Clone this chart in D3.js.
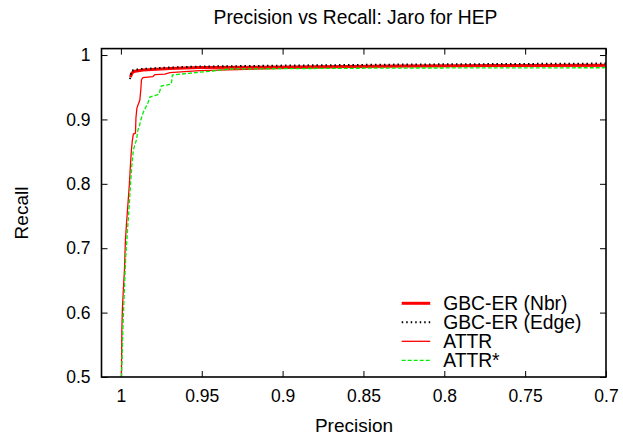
<!DOCTYPE html>
<html>
<head>
<meta charset="utf-8">
<title>Precision vs Recall: Jaro for HEP</title>
<script src="https://cdn.jsdelivr.net/npm/d3@7"></script>
<style>
  body { margin: 0; background: #fff; }
  text { font-family: "Liberation Sans", Arial, sans-serif; fill: #000; }
  .tick text { font-size: 17.5px; }
  .domain { display: none; }
</style>
</head>
<body>
<svg width="623" height="438"></svg>
<script>
// ---- data (precision, recall) ----
var nbrPrecision  = [0.9941, 0.9932, 0.9920, 0.9864, 0.9698, 0.9512, 0.8957, 0.8278, 0.7660, 0.7000];
var nbrRecall     = [0.9658, 0.9720, 0.9744, 0.9767, 0.9790, 0.9806, 0.9814, 0.9829, 0.9837, 0.9842];

var edgePrecision = [0.9944, 0.9938, 0.9932, 0.9883, 0.9698, 0.9512, 0.8957, 0.8278, 0.7660, 0.7000];
var edgeRecall    = [0.9627, 0.9705, 0.9759, 0.9783, 0.9806, 0.9821, 0.9837, 0.9852, 0.9860, 0.9868];

var attrPrecision = [0.9997, 0.9994, 0.9991, 0.9985, 0.9978, 0.9972, 0.9966, 0.9957, 0.9948, 0.9941,
                     0.9935, 0.9929, 0.9923, 0.9910, 0.9907, 0.9901, 0.9883, 0.9877, 0.9873, 0.9864,
                     0.9802, 0.9790, 0.9728, 0.9698, 0.9512, 0.8895, 0.8278, 0.7000];
var attrRecall    = [0.5000, 0.5730, 0.6040, 0.6351, 0.6661, 0.7127, 0.7360, 0.7671, 0.7981, 0.8292,
                     0.8525, 0.8680, 0.8773, 0.8789, 0.9022, 0.9177, 0.9301, 0.9457, 0.9612, 0.9651,
                     0.9666, 0.9697, 0.9705, 0.9728, 0.9759, 0.9798, 0.9821, 0.9832];

var attrsPrecision = [0.9996, 0.9988, 0.9981, 0.9975, 0.9969, 0.9963, 0.9957, 0.9948, 0.9941, 0.9932,
                      0.9923, 0.9914, 0.9904, 0.9895, 0.9886, 0.9877, 0.9861, 0.9852, 0.9833, 0.9821,
                      0.9781, 0.9765, 0.9750, 0.9688, 0.9682, 0.9596, 0.9432, 0.9327, 0.8895, 0.8278, 0.7000];
var attrsRecall    = [0.5000, 0.5730, 0.6196, 0.6584, 0.6925, 0.7127, 0.7360, 0.7671, 0.7981, 0.8292,
                      0.8525, 0.8602, 0.8680, 0.8835, 0.8898, 0.8991, 0.9115, 0.9161, 0.9255, 0.9348,
                      0.9379, 0.9394, 0.9519, 0.9550, 0.9689, 0.9713, 0.9752, 0.9783, 0.9790, 0.9798, 0.9803];

var xTicks = [1, 0.95, 0.9, 0.85, 0.8, 0.75, 0.7];
var yTicks = [1, 0.9, 0.8, 0.7, 0.6, 0.5];

var seriesNames = ["GBC-ER (Nbr)", "GBC-ER (Edge)", "ATTR", "ATTR*"];

// ---- layout ----
var svg = d3.select("svg"),
    margin = {top: 48.6, right: 17, bottom: 61, left: 101.5},
    width = 623 - margin.left - margin.right,
    height = 438 - margin.top - margin.bottom;

var x = d3.scaleLinear().domain([1.012, 0.7]).range([0, width]);
var y = d3.scaleLinear().domain([0.5, 1.01]).range([height, 0]);

var g = svg.append("g").attr("transform", "translate(" + margin.left + "," + margin.top + ")");

g.append("clipPath").attr("id", "clip")
  .append("rect").attr("width", width).attr("height", height);

// axes with inward ticks, mirrored on top/right like gnuplot
var fmt = function(d) { return d3.format("")(d); };
g.append("g").attr("transform", "translate(0," + height + ")")
  .call(d3.axisBottom(x).tickValues(xTicks).tickFormat(fmt).tickSizeInner(-6).tickPadding(13))
  .call(function(a) { a.selectAll("text").attr("dy", "0.71em"); });
g.append("g")
  .call(d3.axisTop(x).tickValues(xTicks).tickFormat("").tickSizeInner(-6));
g.append("g")
  .call(d3.axisLeft(y).tickValues(yTicks).tickFormat(fmt).tickSizeInner(-6).tickPadding(11));
g.append("g").attr("transform", "translate(" + width + ",0)")
  .call(d3.axisRight(y).tickValues(yTicks).tickFormat("").tickSizeInner(-6));

g.selectAll(".tick line").attr("stroke", "#000").attr("stroke-width", 1);

// ---- series ----
var series = [
  {name: seriesNames[0], p: nbrPrecision,  r: nbrRecall,  color: "#ff0000", w: 3,   dash: null},
  {name: seriesNames[1], p: edgePrecision, r: edgeRecall, color: "#000000", w: 2,   dash: "1.5,3"},
  {name: seriesNames[2], p: attrPrecision, r: attrRecall, color: "#ff0000", w: 1.3, dash: null},
  {name: seriesNames[3], p: attrsPrecision, r: attrsRecall, color: "#00ee00", w: 1.3, dash: "4,2"}
];

var line = d3.line()
  .x(function(d) { return x(d[0]); })
  .y(function(d) { return y(d[1]); });

var plot = g.append("g").attr("clip-path", "url(#clip)");
series.forEach(function(s) {
  plot.append("path")
    .datum(d3.zip(s.p, s.r))
    .attr("fill", "none")
    .attr("stroke", s.color)
    .attr("stroke-width", s.w)
    .attr("stroke-dasharray", s.dash)
    .attr("d", line);
});

// frame
g.append("rect").attr("width", width).attr("height", height)
  .attr("fill", "none").attr("stroke", "#000").attr("stroke-width", 1.6);

// ---- legend ----
var legend = g.append("g").attr("transform", "translate(" + (401.7 - margin.left) + "," + (303.3 - margin.top) + ")");
series.forEach(function(s, i) {
  var row = legend.append("g").attr("transform", "translate(0," + (i * 19) + ")");
  row.append("line").attr("x1", 0).attr("x2", 28.5).attr("y1", 0).attr("y2", 0)
    .attr("stroke", s.color).attr("stroke-width", s.w).attr("stroke-dasharray", s.dash);
  row.append("text").attr("x", 41.5).attr("dy", "0.36em").style("font-size", "19.3px").text(s.name);
});

// ---- titles ----
svg.append("text").attr("x", 355.5).attr("y", 24).attr("text-anchor", "middle")
  .style("font-size", "19.3px").text("Precision vs Recall: Jaro for HEP");
svg.append("text").attr("x", 354).attr("y", 432).attr("text-anchor", "middle")
  .style("font-size", "19px").text("Precision");
svg.append("text").attr("transform", "translate(28,213) rotate(-90)").attr("text-anchor", "middle")
  .style("font-size", "19px").text("Recall");
</script>
</body>
</html>
